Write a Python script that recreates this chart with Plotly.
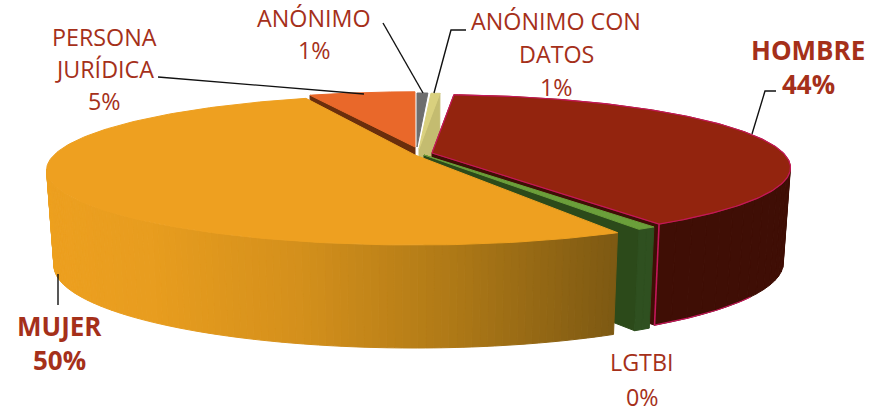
import numpy as np
import plotly.graph_objects as go

# Printed percentages, as the labels in the picture show them
categories = ["ANÓNIMO", "ANÓNIMO CON DATOS", "HOMBRE", "LGTBI", "MUJER", "PERSONA JURÍDICA"]
printed_pct = [1, 1, 44, 0, 50, 5]
# Share of the ring each slice occupies as drawn in the picture, in percent
drawn_share = [0.64, 0.55, 39.78, 0.7, 51.8, 6.11]

# Styles and layout, per slice
top_col = ["#6E6E6E", "#D9D07E", "#93240E", "#6B9F3A", "#EEA020", "#E9682A"]
cut_col = ["#6E6E6E", "#C4BC70", "#3F0E05", "#2C4A1A", "#8A6015", "#6A2E0C"]
tips = [(417, 147), (419, 149), (432, 153), (424, 155), (415, 155), (415, 147)]
scale = [0.9, 0.93, 0.973, 0.985, 1, 0.92]
gap_before = [0, 0, 0, 0, 2.5, -1]
R, H, K = 361, 72, 0.2        # ring radius, depth radius, perspective
DROP, R_B, H_B = 94, 0.98, 1.1
EDGE = "#C4175A"
LABEL = "#A5301A"

def ring(th, tip, s, bottom=False):
    c, sn = np.cos(th), np.sin(th)
    d = 1 + K * c
    if bottom:
        return tip[0] + s * R * R_B * sn / d, tip[1] + DROP - s * H * H_B * c / d
    return tip[0] + s * R * sn / d, tip[1] - s * H * c / d

fig = go.Figure()

def poly(x, y, fill, line=None, w=1):
    fig.add_trace(go.Scatter(x=list(x), y=list(y), mode="lines", fill="toself",
                             fillcolor=fill, line=dict(color=line or fill, width=w),
                             hoverinfo="skip", showlegend=False))

def path(x, y, col, w=1.0):
    fig.add_trace(go.Scatter(x=list(x), y=list(y), mode="lines", line=dict(color=col, width=w),
                             hoverinfo="skip", showlegend=False))

# slice angle ranges from the shares
starts, ends = [], []
a = 0.0
for sh, g in zip(drawn_share, gap_before):
    a += g
    starts.append(a)
    a += sh * 3.6
    ends.append(a)

def mujer_grad(x):
    xs = [50, 150, 300, 450, 620]
    rs = [[0xED, 0xA0, 0x1F], [0xE8, 0x9D, 0x1F], [0xD4, 0x90, 0x1C], [0xB0, 0x7A, 0x17], [0x7D, 0x59, 0x13]]
    v = [int(np.interp(x, xs, [r[i] for r in rs])) for i in range(3)]
    return f"rgb({v[0]},{v[1]},{v[2]})"

def wall(i, a0, a1, colour, step=1.0):
    ths = np.radians(np.linspace(a0, a1, max(2, int(abs(a1 - a0) / step) + 1)))
    for t0, t1 in zip(ths[:-1], ths[1:]):
        x0, y0 = ring(t0, tips[i], scale[i])
        x1, y1 = ring(t1, tips[i], scale[i])
        x2, y2 = ring(t1, tips[i], scale[i], True)
        x3, y3 = ring(t0, tips[i], scale[i], True)
        poly([x0, x1, x2, x3, x0], [y0, y1, y2, y3, y0], colour((x0 + x1) / 2))

def top(i):
    th = np.radians(np.linspace(starts[i], ends[i], 160))
    x, y = ring(th, tips[i], scale[i])
    tx, ty = tips[i]
    poly([tx, *x, tx], [ty, *y, ty], top_col[i])

def cut(i, ang):
    t = np.radians(ang)
    x0, y0 = ring(t, tips[i], scale[i])
    x1, y1 = ring(t, tips[i], scale[i], True)
    tx, ty = tips[i]
    poly([tx, x0, x1, tx, tx], [ty, y0, y1, ty + DROP, ty], cut_col[i])

# PERSONA JURÍDICA
cut(5, starts[5])
top(5)
# ANÓNIMO
top(0)
# ANÓNIMO CON DATOS
cut(1, ends[1])
top(1)
# HOMBRE
cut(2, ends[2])
wall(2, 101.5, ends[2], lambda x: cut_col[2], step=3)
top(2)
th = np.radians(np.linspace(starts[2], ends[2], 160))
rx, ry = ring(th, tips[2], scale[2])
path([tips[2][0], *rx, tips[2][0]], [tips[2][1], *ry, tips[2][1]], EDGE, 1.2)
tb = np.radians(np.linspace(ends[2], 125, 40))
bx, by = ring(tb, tips[2], scale[2], True)
ex, ey = ring(np.radians(ends[2]), tips[2], scale[2])
path([ex, bx[0]], [ey, by[0]], EDGE, 1.6)
path(bx, by, EDGE, 1.2)
# LGTBI
cut(3, ends[3])
wall(3, starts[3], ends[3], lambda x: "#2F5020")
top(3)
# MUJER
wall(4, starts[4], 259, mujer_grad)
top(4)

# Leader lines
leaders = [
    ([383, 423], [23, 93]),
    ([466, 451, 434], [30, 30, 93]),
    ([158, 364], [77, 94]),
    ([776, 765, 752], [91, 91, 134]),
    ([58, 58], [274, 305]),
]
for lx, ly in leaders:
    path(lx, ly, "#111111", 1.4)

# Labels, one annotation per line of text
label_lines = {
    0: [("ANÓNIMO", 314, 18), (f"{printed_pct[0]}%", 314, 50)],
    1: [("ANÓNIMO CON", 556, 21), ("DATOS", 556, 54), (f"{printed_pct[1]}%", 556, 87)],
    2: [("HOMBRE", 808, 50), (f"{printed_pct[2]}%", 808, 84)],
    3: [("LGTBI", 642, 362), (f"{printed_pct[3]}%", 642, 396.5)],
    4: [("MUJER", 59, 326), (f"{printed_pct[4]}%", 59, 360)],
    5: [("PERSONA", 104, 37), ("JURÍDICA", 104, 69), (f"{printed_pct[5]}%", 104, 101)],
}
bold = {2, 4}
ann = []
for i, lines in label_lines.items():
    for txt, x, y in lines:
        t = f"<b>{txt}</b>" if i in bold else txt
        ann.append(dict(x=x, y=y, xref="x", yref="y", text=t, showarrow=False,
                        xanchor="center", yanchor="middle",
                        font=dict(family="Open Sans", size=26 if i in bold else 23.3, color=LABEL)))

fig.update_layout(
    width=869, height=412, margin=dict(l=0, r=0, t=0, b=0),
    paper_bgcolor="white", plot_bgcolor="white",
    xaxis=dict(range=[0, 869], visible=False, fixedrange=True),
    yaxis=dict(range=[412, 0], visible=False, fixedrange=True),
    annotations=ann, showlegend=False,
)
fig.write_html("out.html", config={"displayModeBar": False},
               post_script="document.body.style.margin='0';document.body.style.overflow='hidden';")
